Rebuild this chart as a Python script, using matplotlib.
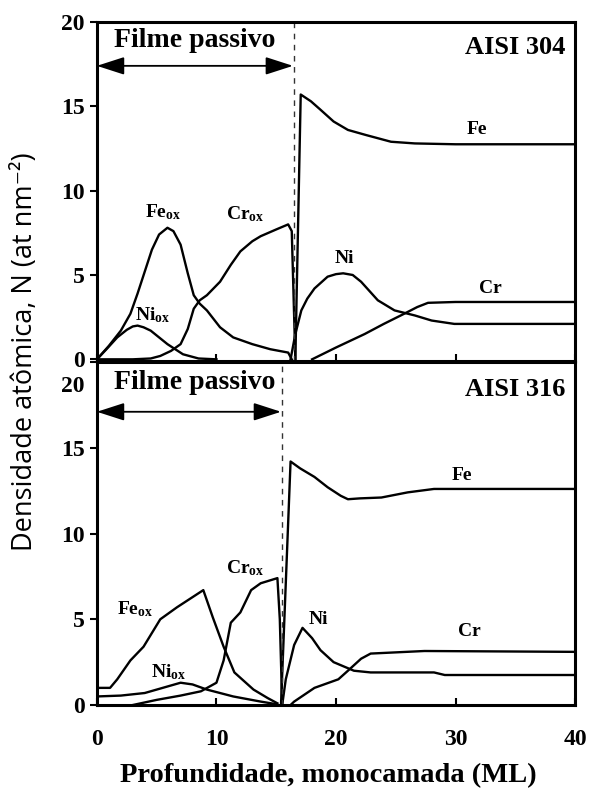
import numpy as np
import matplotlib.pyplot as plt
from matplotlib.patches import FancyArrowPatch
from matplotlib.transforms import ScaledTranslation

plt.rcParams['mathtext.fontset'] = 'custom'
plt.rcParams['mathtext.rm'] = 'Liberation Serif:bold'
plt.rcParams['mathtext.it'] = 'Liberation Serif:bold'
plt.rcParams['mathtext.bf'] = 'Liberation Serif:bold'

# AISI 304 (top panel)
fe_ox_304_x = [0, 1, 2, 2.8, 3.4, 4.0, 4.6, 5.2, 5.9, 6.4, 7.0, 7.6, 8.1, 8.6, 9.2, 10.3, 11.4, 13, 14.5, 16.0, 16.3]
fe_ox_304_y = [0, 0.8, 1.7, 2.7, 3.9, 5.2, 6.5, 7.4, 7.8, 7.6, 6.8, 5.1, 3.8, 3.3, 2.9, 1.9, 1.3, 0.9, 0.6, 0.4, 0]
cr_ox_304_x = [0, 3, 4.5, 5.3, 6.2, 7.0, 7.6, 8.1, 8.6, 9.2, 10.3, 11.2, 12, 13, 13.7, 15, 16.0, 16.3, 16.6]
cr_ox_304_y = [0, 0, 0.05, 0.2, 0.5, 0.9, 1.8, 3.0, 3.5, 3.8, 4.6, 5.6, 6.4, 7.0, 7.3, 7.7, 8.0, 7.6, 0]
ni_ox_304_x = [0, 0.8, 1.7, 2.5, 3.0, 3.4, 3.9, 4.5, 5.2, 5.9, 7.2, 8.5, 10]
ni_ox_304_y = [0, 0.6, 1.3, 1.75, 1.95, 2.0, 1.9, 1.7, 1.3, 0.9, 0.3, 0.05, 0]
fe_304_x = [16.6, 17.05, 17.9, 18.7, 19.8, 21, 22.5, 24.6, 26.6, 30, 40]
fe_304_y = [0, 15.7, 15.3, 14.8, 14.1, 13.6, 13.3, 12.9, 12.8, 12.75, 12.75]
ni_304_x = [16.2, 16.6, 17.1, 17.6, 18.2, 19.3, 20.0, 20.6, 21.4, 22.1, 23.5, 24.9, 26.6, 28, 29.9, 40]
ni_304_y = [0, 1.5, 2.9, 3.6, 4.2, 4.9, 5.05, 5.1, 5.0, 4.6, 3.5, 2.9, 2.6, 2.3, 2.1, 2.1]
cr_304_x = [18.0, 20, 22.4, 24, 25.7, 26.8, 27.7, 30, 40]
cr_304_y = [0, 0.7, 1.5, 2.1, 2.7, 3.1, 3.35, 3.4, 3.4]

# AISI 316 (bottom panel)
fe_ox_316_x = [0, 1.1, 1.7, 2.8, 3.9, 5.3, 6.7, 7.8, 8.9, 9.7, 10.6, 11.5, 13.1, 14.3, 15.1]
fe_ox_316_y = [1.0, 1.0, 1.5, 2.6, 3.4, 5.0, 5.7, 6.2, 6.7, 5.1, 3.4, 1.9, 0.9, 0.4, 0.1]
ni_ox_316_x = [0, 2, 4, 5.5, 7, 8, 9.2, 11.4, 13.7, 15]
ni_ox_316_y = [0.5, 0.55, 0.7, 1.0, 1.3, 1.2, 0.9, 0.5, 0.2, 0.05]
cr_ox_316_x = [3, 5, 7, 8.7, 10, 10.6, 11.2, 12, 12.9, 13.7, 15.1, 15.3, 15.5]
cr_ox_316_y = [0, 0.3, 0.55, 0.8, 1.3, 2.6, 4.8, 5.4, 6.7, 7.1, 7.4, 5.0, 0]
fe_316_x = [15.4, 16.2, 17, 18.2, 19.3, 20.4, 21, 22, 23.8, 26, 28.2, 40]
fe_316_y = [0, 14.2, 13.8, 13.3, 12.7, 12.2, 12.0, 12.05, 12.1, 12.4, 12.6, 12.6]
ni_316_x = [15.5, 15.8, 16.5, 17.2, 18, 18.7, 19.8, 21.5, 22.9, 28.2, 29.1, 40]
ni_316_y = [0, 1.5, 3.5, 4.5, 3.9, 3.2, 2.5, 2.0, 1.9, 1.9, 1.75, 1.75]
cr_316_x = [16.2, 16.5, 18.2, 20.2, 21, 22.1, 22.9, 27.4, 40]
cr_316_y = [0, 0.2, 1.0, 1.5, 2.0, 2.7, 3.0, 3.15, 3.1]

film_end = [16.5, 15.5]
arrow_y = [17.4, 17.1]
titles = ['AISI 304', 'AISI 316']

serif = 'Liberation Serif'

fig = plt.figure(figsize=(5.91, 7.91), dpi=100)
ax1 = fig.add_axes([0.164, 0.5436, 0.809, 0.4286])
ax2 = fig.add_axes([0.164, 0.1087, 0.809, 0.4336])

curves = [
    [(fe_ox_304_x, fe_ox_304_y), (cr_ox_304_x, cr_ox_304_y), (ni_ox_304_x, ni_ox_304_y),
     (fe_304_x, fe_304_y), (ni_304_x, ni_304_y), (cr_304_x, cr_304_y)],
    [(fe_ox_316_x, fe_ox_316_y), (cr_ox_316_x, cr_ox_316_y), (ni_ox_316_x, ni_ox_316_y),
     (fe_316_x, fe_316_y), (ni_316_x, ni_316_y), (cr_316_x, cr_316_y)],
]

labels = [
    [(r'$\mathrm{Fe}_{\mathrm{ox}}$', 5.5, 8.7), (r'$\mathrm{Cr}_{\mathrm{ox}}$', 12.4, 8.6),
     (r'$\mathrm{Ni}_{\mathrm{ox}}$', 4.7, 2.6), ('Fe', 31.8, 13.6), ('Ni', 20.7, 6.0), ('Cr', 32.9, 4.2)],
    [(r'$\mathrm{Fe}_{\mathrm{ox}}$', 3.2, 5.6), (r'$\mathrm{Cr}_{\mathrm{ox}}$', 12.4, 8.0),
     (r'$\mathrm{Ni}_{\mathrm{ox}}$', 6.0, 1.9), ('Fe', 30.5, 13.4), ('Ni', 18.5, 5.0), ('Cr', 31.2, 4.3)],
]

for i, ax in enumerate([ax1, ax2]):
    for x, y in curves[i]:
        ax.plot(x, y, color='black', lw=1.7)
    for txt, lx, ly in labels[i]:
        ax.text(lx, ly, txt, fontsize=14, fontfamily=serif, fontweight='bold',
                ha='center', va='center')
    ax.axvline(film_end[i], color='#333333', lw=1.0, ls=(0, (4, 4)))
    arr = FancyArrowPatch((0, arrow_y[i]), (film_end[i] - 0.1, arrow_y[i]),
                          arrowstyle='<|-|>,head_length=1.3,head_width=0.42',
                          mutation_scale=13, color='black', lw=1.3, shrinkA=0, shrinkB=0)
    ax.add_patch(arr)
    ax.text(8.2, 18.9 if i == 0 else 18.8, 'Filme passivo', fontsize=20, fontfamily=serif,
            fontweight='bold', ha='center', va='center')
    ax.text(39.2, 18.5 if i == 0 else 18.4, titles[i], fontsize=19, fontfamily=serif,
            fontweight='bold', ha='right', va='center')
    ax.set_xlim(0, 40)
    ax.set_xticks([0, 10, 20, 30, 40])
    ax.set_yticks([0, 5, 10, 15, 20])
    ax.tick_params(axis='x', direction='in', length=5, width=1.5, pad=17)
    ax.tick_params(axis='y', direction='out', length=5, width=1.5, pad=4)
    for lbl in ax.get_xticklabels() + ax.get_yticklabels():
        lbl.set_fontfamily(serif)
        lbl.set_fontweight('bold')
        lbl.set_fontsize(17)
    for sp in ax.spines.values():
        sp.set_linewidth(2.2)

ax1.set_ylim(-0.1, 20)
ax2.set_ylim(0, 20)
ax1.tick_params(axis='x', labelbottom=False)

# the "20" label of the lower panel sits a little below its tick
top_lbl = ax2.yaxis.get_major_ticks()[-1].label1
top_lbl.set_transform(top_lbl.get_transform() + ScaledTranslation(0, -0.22, fig.dpi_scale_trans))

fig.text(0.042, 0.555, 'Densidade atômica, N (at nm⁻²)', rotation=90, ha='center', va='center',
         fontsize=19.5, family=['Open Sans', 'DejaVu Sans'])
fig.text(0.555, 0.019, 'Profundidade, monocamada (ML)', ha='center', va='center',
         fontsize=20.5, fontfamily=serif, fontweight='bold')

fig.savefig('out.png', dpi=100)
